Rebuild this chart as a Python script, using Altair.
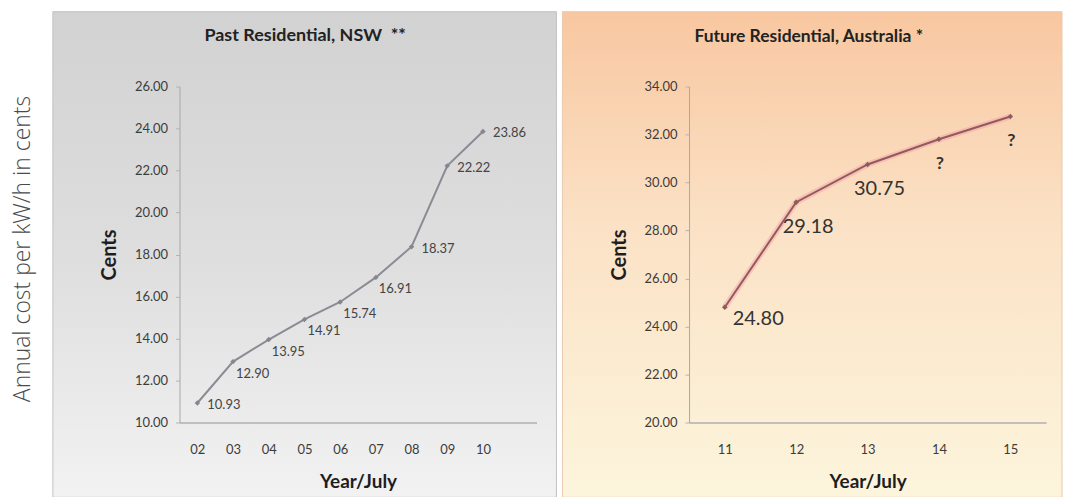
import altair as alt
import pandas as pd

# ---------------- data ----------------
PAST_YEARS = ["02", "03", "04", "05", "06", "07", "08", "09", "10"]
PAST_CENTS = [10.93, 12.90, 13.95, 14.91, 15.74, 16.91, 18.37, 22.22, 23.86]
PAST_LABELS = ["10.93", "12.90", "13.95", "14.91", "15.74", "16.91", "18.37", "22.22", "23.86"]
PAST_Y_TICKS = [10, 12, 14, 16, 18, 20, 22, 24, 26]
PAST_SPACER = [" "]  # empty tenth category slot on the past axis
PAST_SIDE_LABELED = ["02", "08", "09", "10"]  # labels placed beside the point

FUTURE_YEARS = ["11", "12", "13", "14", "15"]
FUTURE_CENTS = [24.80, 29.18, 30.75, 31.80, 32.75]
FUTURE_LABELS = ["24.80", "29.18", "30.75", "?", "?"]
FUTURE_Y_TICKS = [20, 22, 24, 26, 28, 30, 32, 34]
UNKNOWN = "?"

TITLE_PAST = "Past Residential, NSW\u00a0 **"
TITLE_FUTURE = "Future Residential, Australia *"
Y_TITLE = "Cents"
X_TITLE = "Year/July"
OUTER_TITLE = "Annual cost per kW/h in cents"

FONT = "Lato"
W, H = 358, 337

past_df = pd.DataFrame({"year": PAST_YEARS, "cents": PAST_CENTS, "label": PAST_LABELS})
future_df = pd.DataFrame({"year": FUTURE_YEARS, "cents": FUTURE_CENTS, "label": FUTURE_LABELS})


def y_axis(values):
    return alt.Axis(values=values, format=".2f", title=Y_TITLE, grid=False,
                    labelFont=FONT, labelFontSize=13, labelColor="#3c3c3c", labelPadding=8,
                    tickSize=4, tickColor="#b4b4b4", domainColor="#a8a8a8", domainWidth=1,
                    titleFont=FONT, titleFontSize=20, titleFontWeight="bold",
                    titleColor="#1e1e1e", titlePadding=15, zindex=1)


def x_axis():
    return alt.Axis(title=X_TITLE, labelAngle=0, ticks=False, tickSize=0, grid=False,
                    labelFont=FONT, labelFontSize=13, labelColor="#3c3c3c", labelPadding=21,
                    domainColor="#b0b0b0", domainWidth=1.5,
                    titleFont=FONT, titleFontSize=19, titleFontWeight="bold",
                    titleColor="#1e1e1e", titlePadding=16, zindex=1)


def background(stops, stroke, right):
    grad = alt.Gradient(gradient="linear", x1=0, x2=0, y1=0, y2=1,
                        stops=[alt.GradientStop(color=c, offset=o) for o, c in stops])
    return alt.Chart(pd.DataFrame({"panel": [0]})).mark_rect(
        color=grad, stroke=stroke, strokeWidth=1
    ).encode(x=alt.value(-127), x2=alt.value(right), y=alt.value(-75), y2=alt.value(412))


# ---------------- past panel ----------------
past_base = alt.Chart(past_df).encode(
    x=alt.X("year:O", sort=None,
            scale=alt.Scale(type="point", domain=PAST_YEARS + PAST_SPACER, padding=0.5),
            axis=x_axis()),
    y=alt.Y("cents:Q", scale=alt.Scale(domain=[10, 26], nice=False, zero=False),
            axis=y_axis(PAST_Y_TICKS)),
)
past_line = past_base.mark_line(color="#8b8b94", strokeWidth=2)
past_pts = past_base.mark_point(shape="diamond", filled=True, size=30, color="#86868f", opacity=1)
past_txt_side = past_base.mark_text(align="left", baseline="middle", dx=10, dy=2,
                                    font=FONT, fontSize=13, color="#444444").encode(
    text="label:N").transform_filter(alt.FieldOneOfPredicate(field="year", oneOf=PAST_SIDE_LABELED))
past_txt_below = past_base.mark_text(align="left", baseline="middle", dx=3, dy=12,
                                     font=FONT, fontSize=13, color="#444444").encode(
    text="label:N").transform_filter(~alt.FieldOneOfPredicate(field="year", oneOf=PAST_SIDE_LABELED))

outer = alt.Chart(pd.DataFrame({"t": [OUTER_TITLE]})).mark_text(
    angle=270, align="center", baseline="middle", font="Open Sans", fontWeight=300,
    fontSize=23, color="#4a4a4a"
).encode(text="t:N", x=alt.value(-157), y=alt.value(163))

past_bg = background([(0, "#d2d2d2"), (0.5, "#dedede"), (1, "#f2f2f3")], "#c2c2c2", 378)

past = alt.layer(past_bg, outer, past_line, past_pts, past_txt_side, past_txt_below).properties(
    width=W, height=H,
    title=alt.TitleParams(TITLE_PAST, frame="group", anchor="middle", dx=-53, offset=-34,
                          font=FONT, fontSize=18, fontWeight="bold", color="#222222"),
)

# ---------------- future panel ----------------
fut_base = alt.Chart(future_df).encode(
    x=alt.X("year:O", sort=None,
            scale=alt.Scale(type="point", domain=FUTURE_YEARS, padding=0.5),
            axis=x_axis()),
    y=alt.Y("cents:Q", scale=alt.Scale(domain=[20, 34], nice=False, zero=False),
            axis=y_axis(FUTURE_Y_TICKS)),
)
fut_glow = fut_base.mark_line(color="#f2a0a8", strokeWidth=6, opacity=0.45)
fut_line = fut_base.mark_line(color="#935a5e", strokeWidth=2)
fut_pts = fut_base.mark_point(shape="diamond", filled=True, size=30, color="#8e5a5e", opacity=1)
is_first = alt.FieldEqualPredicate(field="year", equal=FUTURE_YEARS[0])
is_unknown = alt.FieldEqualPredicate(field="label", equal=UNKNOWN)
fut_txt_first = fut_base.mark_text(align="left", baseline="middle", dx=8, dy=12,
                                   font=FONT, fontSize=20, color="#333333").encode(
    text="label:N").transform_filter(is_first)
fut_txt_nums = fut_base.mark_text(align="center", baseline="middle", dx=12, dy=25,
                                  font=FONT, fontSize=20, color="#333333").encode(
    text="label:N").transform_filter(~is_first).transform_filter(~is_unknown)
fut_txt_unknown = fut_base.mark_text(align="center", baseline="middle", dx=1, dy=25,
                                     font=FONT, fontSize=18, fontWeight="bold",
                                     color="#333333").encode(
    text="label:N").transform_filter(is_unknown)

fut_bg = background([(0, "#f8c7a0"), (0.45, "#fbe2c6"), (1, "#fcf5dc")], "#e9c9ad", 374)

future = alt.layer(fut_bg, fut_glow, fut_line, fut_pts, fut_txt_first, fut_txt_nums,
                   fut_txt_unknown).properties(
    width=W, height=H,
    title=alt.TitleParams(TITLE_FUTURE, frame="group", anchor="middle", dx=-59, offset=-34,
                          font=FONT, fontSize=17.5, fontWeight="bold", color="#222222"),
)

chart = alt.hconcat(past, future, spacing=4).properties(
    padding={"left": 4, "top": 2, "right": 0, "bottom": 0}
).configure_view(stroke=None)

chart.save("out.html", embed_options={"renderer": "svg", "actions": False})
